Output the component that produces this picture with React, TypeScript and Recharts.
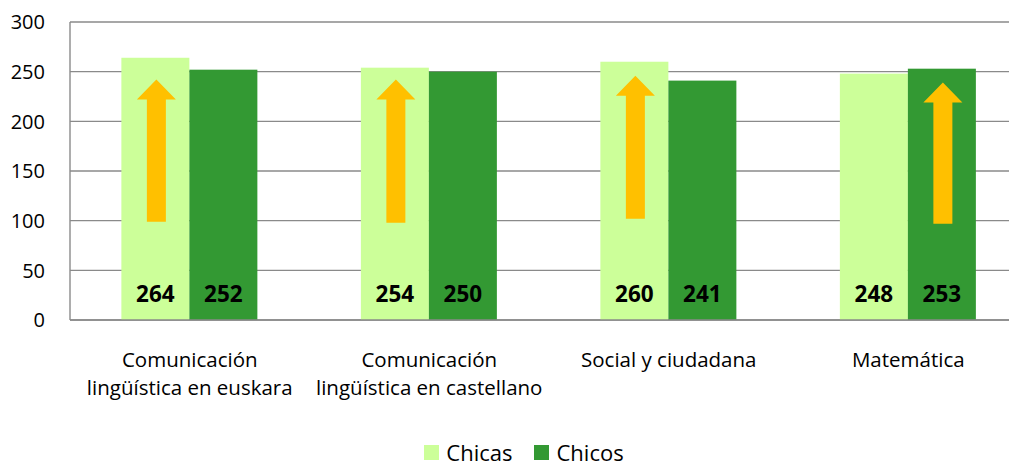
import React from "react";
import { BarChart, Bar, XAxis, YAxis, CartesianGrid, Legend, LabelList } from "recharts";

const categories = [
  "Comunicación\nlingüística en euskara",
  "Comunicación\nlingüística en castellano",
  "Social y ciudadana",
  "Matemática",
];
const chicas = [264, 254, 260, 248];
const chicos = [252, 250, 241, 253];
const arrowSeries = ["Chicas", "Chicas", "Chicas", "Chicos"];
const arrowBase = [99, 98, 102, 97];
const arrowTip = [242, 242, 246, 239];
const yTicks = [0, 50, 100, 150, 200, 250, 300];

const data = categories.map((name, i) => ({
  name,
  Chicas: chicas[i],
  Chicos: chicos[i],
  arrow: arrowSeries[i],
  arrowBase: arrowBase[i],
  arrowTip: arrowTip[i],
}));

const FONT = "'Open Sans', sans-serif";
const C_CHICAS = "#CCFF99";
const C_CHICOS = "#339933";
const C_ARROW = "#FFC000";
const GRID = "#8a8a8a";

const makeShape = (series: string, color: string) => (props: any) => {
  const { x, y, width, height, payload } = props;
  const v = payload[series];
  const els: any[] = [<rect key="r" x={x} y={y} width={width} height={height} fill={color} />];
  if (payload.arrow === series && v > 0) {
    const ppu = height / v;
    const base = y + height;
    const yB = base - payload.arrowBase * ppu;
    const yT = base - payload.arrowTip * ppu;
    const yH = yT + 20;
    const cx = x + width / 2 + 1;
    const sw = 9.5;
    const hw = 19.5;
    const pts = [
      [cx - sw, yB],
      [cx - sw, yH],
      [cx - hw, yH],
      [cx, yT],
      [cx + hw, yH],
      [cx + sw, yH],
      [cx + sw, yB],
    ]
      .map((p) => p.join(","))
      .join(" ");
    els.push(<polygon key="a" points={pts} fill={C_ARROW} />);
  }
  return <g>{els}</g>;
};

const ValueLabel = (props: any) => {
  const { x, y, width, height, value } = props;
  return (
    <text
      x={x + width / 2}
      y={y + height - 26.5}
      textAnchor="middle"
      dominantBaseline="central"
      fontFamily={FONT}
      fontWeight={700}
      fontSize={22.5}
      fill="#000"
    >
      {value}
    </text>
  );
};

const XTick = (props: any) => {
  const { x, y, payload } = props;
  const lines = String(payload.value).split("\n");
  return (
    <g>
      {lines.map((l, i) => (
        <text
          key={i}
          x={x}
          y={y + 47 + i * 28}
          textAnchor="middle"
          fontFamily={FONT}
          fontSize={20.5}
          fill="#000"
        >
          {l}
        </text>
      ))}
    </g>
  );
};

const YTick = (props: any) => {
  const { x, y, payload } = props;
  return (
    <text x={x} y={y} dy="0.36em" textAnchor="end" fontFamily={FONT} fontSize={20} fill="#000">
      {payload.value}
    </text>
  );
};

const LegendContent = () => (
  <div
    style={{
      display: "flex",
      justifyContent: "center",
      alignItems: "center",
      paddingLeft: 12,
      paddingTop: 11,
      height: 22,
      fontFamily: FONT,
      fontSize: 22,
      color: "#000",
      lineHeight: "22px",
    }}
  >
    {[
      ["Chicas", C_CHICAS],
      ["Chicos", C_CHICOS],
    ].map(([n, c], i) => (
      <div key={n} style={{ display: "flex", alignItems: "center", marginLeft: i ? 22 : 0 }}>
        <div style={{ width: 15, height: 15, background: c, marginRight: 7 }} />
        <span>{n}</span>
      </div>
    ))}
  </div>
);

export default function App() {
  return (
    <div style={{ width: 1009, height: 455, background: "#fff" }}>
      <BarChart
        width={1009}
        height={455}
        data={data}
        margin={{ top: 14, right: -11, bottom: 0, left: 0 }}
        barCategoryGap="21.45%"
        barGap={0}
      >
        <CartesianGrid vertical={false} stroke={GRID} strokeWidth={1.4} />
        <XAxis
          dataKey="name"
          interval={0}
          height={110}
          tickLine={false}
          tickSize={0}
          tickMargin={0}
          axisLine={{ stroke: GRID, strokeWidth: 1.4 }}
          tick={<XTick />}
        />
        <YAxis
          domain={[0, 300]}
          ticks={yTicks}
          width={62}
          tickLine={false}
          tickSize={0}
          tickMargin={25}
          axisLine={{ stroke: GRID, strokeWidth: 1.4 }}
          tick={<YTick />}
        />
        <Legend verticalAlign="bottom" height={33} content={<LegendContent />} />
        <Bar dataKey="Chicas" fill={C_CHICAS} isAnimationActive={false} shape={makeShape("Chicas", C_CHICAS)}>
          <LabelList dataKey="Chicas" content={<ValueLabel />} />
        </Bar>
        <Bar dataKey="Chicos" fill={C_CHICOS} isAnimationActive={false} shape={makeShape("Chicos", C_CHICOS)}>
          <LabelList dataKey="Chicos" content={<ValueLabel />} />
        </Bar>
      </BarChart>
    </div>
  );
}
